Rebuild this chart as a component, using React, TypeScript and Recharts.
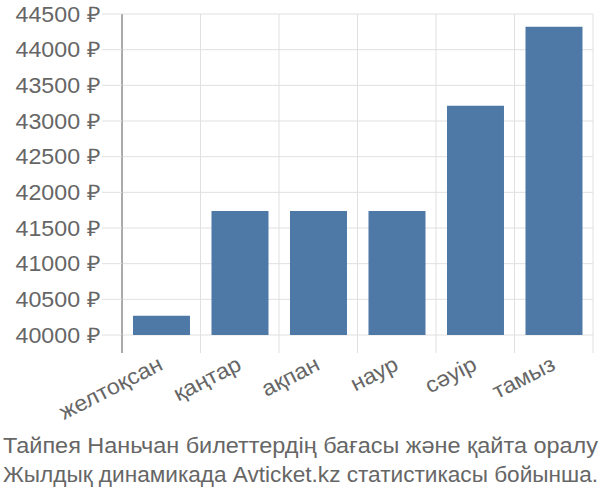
import { BarChart, Bar, XAxis, YAxis, CartesianGrid } from 'recharts'

const months = ['желтоқсан', 'қаңтар', 'ақпан', 'наур', 'сәуір', 'тамыз']
const prices = [40270, 41740, 41740, 41740, 43215, 44320]
const yTicks = [40000, 40500, 41000, 41500, 42000, 42500, 43000, 43500, 44000, 44500]
const titleLines = [
  'Тайпея Наньчан билеттердің бағасы және қайта оралу',
  'Жылдық динамикада Avticket.kz статистикасы бойынша.',
]

const W = 600
const H = 500
const PLOT_LEFT = 122
const PLOT_RIGHT = 593
const PLOT_TOP = 14
const PLOT_BOTTOM = 335
const BAND = (PLOT_RIGHT - PLOT_LEFT) / months.length
const FONT = '"Liberation Sans", Arial, sans-serif'
const TEXT = '#666666'
const GRID = '#e0e0e0'
const AXIS = '#aaaaaa'

const data = months.map((m, i) => ({ month: m, price: prices[i] }))

function MonthTick(props: any) {
  const { x, payload, index } = props
  const left = x - BAND / 2
  return (
    <g>
      <line x1={left} x2={left} y1={PLOT_BOTTOM} y2={PLOT_BOTTOM + 18}
        stroke={index === 0 ? AXIS : GRID} strokeWidth={index === 0 ? 2 : 1} />
      {index === months.length - 1 && (
        <line x1={left + BAND} x2={left + BAND} y1={PLOT_BOTTOM} y2={PLOT_BOTTOM + 18} stroke={GRID} />
      )}
      <text transform={`translate(${x + 3},${PLOT_BOTTOM + 34}) rotate(-27) scale(1.06,1)`}
        textAnchor="end" fill={TEXT} fontSize={22} fontFamily={FONT}>
        {payload.value}
      </text>
    </g>
  )
}

function PriceTick(props: any) {
  const { x, y, payload } = props
  return (
    <text transform={`translate(${x},${y}) scale(1.08,1)`} dy="0.355em"
      textAnchor="end" fill={TEXT} fontSize={21.5} fontFamily={FONT}>
      {`${payload.value} ₽`}
    </text>
  )
}

export default function App() {
  return (
    <div style={{ position: 'absolute', left: 0, top: 0, width: W, height: H, background: '#fff' }}>
      <BarChart width={W} height={H} data={data}
        margin={{ top: PLOT_TOP, right: W - PLOT_RIGHT, left: 0, bottom: 0 }}
        barCategoryGap="14%">
        <CartesianGrid stroke={GRID} strokeWidth={1}
          verticalCoordinatesGenerator={() => months.map((_, i) => PLOT_LEFT + BAND * (i + 1))} />
        <XAxis dataKey="month" height={H - PLOT_BOTTOM} interval={0}
          axisLine={false} tickLine={false} tick={<MonthTick />} />
        <YAxis width={PLOT_LEFT} domain={[40000, 44500]} ticks={yTicks} interval={0}
          allowDataOverflow
          axisLine={{ stroke: AXIS, strokeWidth: 2 }}
          tickLine={{ stroke: GRID }} tickSize={20} tickMargin={2}
          tick={<PriceTick />} />
        <Bar dataKey="price" fill="#4e79a7" isAnimationActive={false} />
      </BarChart>
      <svg width={W} height={70} style={{ position: 'absolute', left: 0, top: 430 }}>
        {titleLines.map((line, i) => (
          <text key={i} x={3} y={23 + i * 29} textLength={595} lengthAdjust="spacingAndGlyphs"
            fill={TEXT} fontSize={22} fontFamily={FONT}>
            {line}
          </text>
        ))}
      </svg>
    </div>
  )
}
